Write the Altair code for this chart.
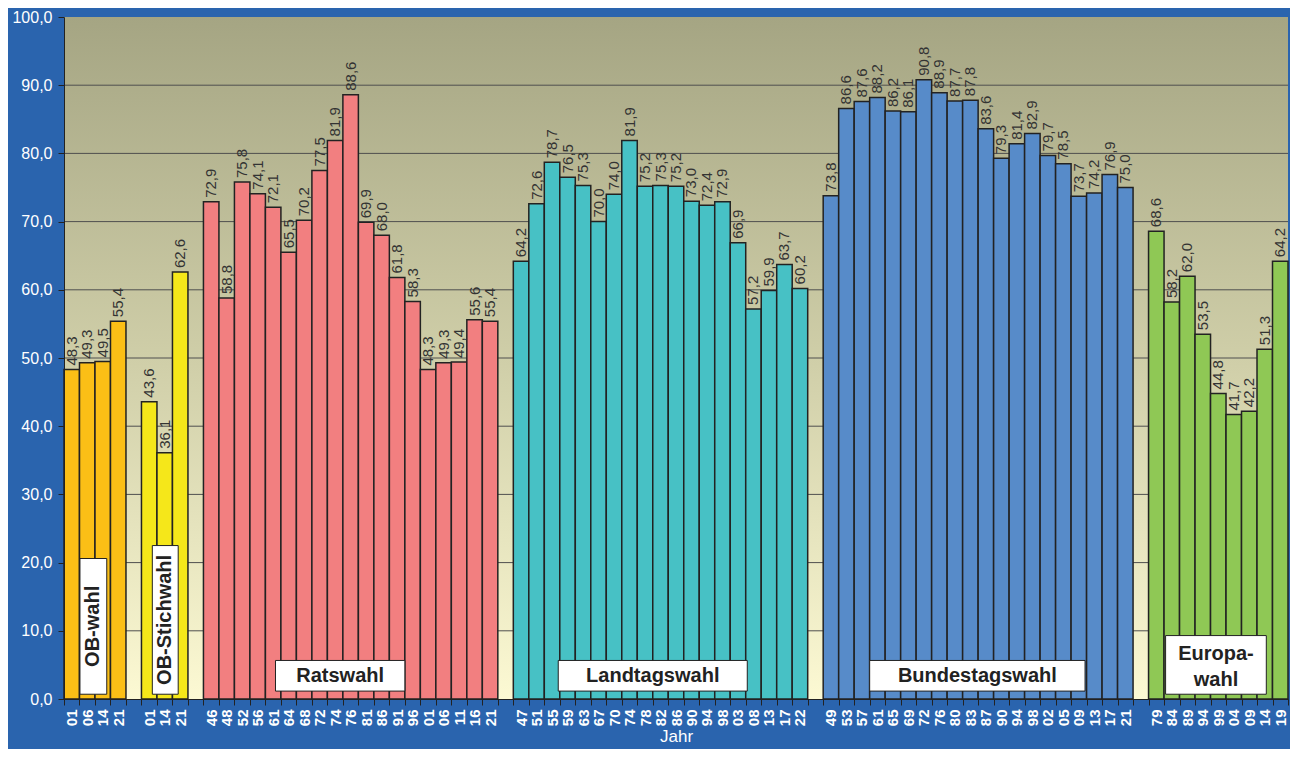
import altair as alt
import pandas as pd

# ---------------- data ----------------
groups = ["OB-wahl", "OB-Stichwahl", "Ratswahl", "Landtagswahl", "Bundestagswahl", "Europawahl"]

ob_years = ["01", "06", "14", "21"]
ob_values = [48.3, 49.3, 49.5, 55.4]

obs_years = ["01", "14", "21"]
obs_values = [43.6, 36.1, 62.6]

rat_years = ["46", "48", "52", "56", "61", "64", "68", "72", "74", "76", "81", "86", "91", "96",
             "01", "06", "11", "16", "21"]
rat_values = [72.9, 58.8, 75.8, 74.1, 72.1, 65.5, 70.2, 77.5, 81.9, 88.6, 69.9, 68.0, 61.8, 58.3,
              48.3, 49.3, 49.4, 55.6, 55.4]

ltw_years = ["47", "51", "55", "59", "63", "67", "70", "74", "78", "82", "86", "90", "94", "98",
             "03", "08", "13", "17", "22"]
ltw_values = [64.2, 72.6, 78.7, 76.5, 75.3, 70.0, 74.0, 81.9, 75.2, 75.3, 75.2, 73.0, 72.4, 72.9,
              66.9, 57.2, 59.9, 63.7, 60.2]

btw_years = ["49", "53", "57", "61", "65", "69", "72", "76", "80", "83", "87", "90", "94", "98",
             "02", "05", "09", "13", "17", "21"]
btw_values = [73.8, 86.6, 87.6, 88.2, 86.2, 86.1, 90.8, 88.9, 87.7, 87.8, 83.6, 79.3, 81.4, 82.9,
              79.7, 78.5, 73.7, 74.2, 76.9, 75.0]

eu_years = ["79", "84", "89", "94", "99", "04", "09", "14", "19"]
eu_values = [68.6, 58.2, 62.0, 53.5, 44.8, 41.7, 42.2, 51.3, 64.2]

y_ticks = [0, 10, 20, 30, 40, 50, 60, 70, 80, 90, 100]

group_colors = ["#fbbf16", "#f5e71a", "#f27f80", "#47c1c5", "#578bc9", "#8fc855"]

# box labels (text) and their placement in data units
box_texts = ["OB-wahl", "OB-Stichwahl", "Ratswahl", "Landtagswahl", "Bundestagswahl", "Europa-\nwahl"]
box_x0 = [1.03, 5.7, 13.65, 31.9, 52.0, 71.1]
box_x1 = [2.76, 7.37, 22.0, 44.1, 65.9, 77.6]
box_y0 = [0.7, 0.7, 1.16, 1.16, 1.16, 0.7]
box_y1 = [20.6, 22.5, 5.65, 5.65, 5.65, 9.3]
box_vertical = [True, True, False, False, False, False]

# ---------------- build table ----------------
series = [(ob_years, ob_values), (obs_years, obs_values), (rat_years, rat_values),
          (ltw_years, ltw_values), (btw_years, btw_values), (eu_years, eu_values)]
rows = []
tick_labels = []
pos = 0
for gi, (g, (yrs, vals)) in enumerate(zip(groups, series)):
    for yr, v in zip(yrs, vals):
        rows.append(dict(group=g, year=yr, value=v, base=0, x0=pos, x1=pos + 1, xc=pos + 0.5,
                         label=f"{v:.1f}".replace(".", ",")))
        tick_labels.append(yr)
        pos += 1
    if gi < len(groups) - 1:
        tick_labels.append("")
        pos += 1
n_slots = pos
tick_labels.append("")
df = pd.DataFrame(rows)

W, H = 1224, 682
slot_px = W / n_slots

xscale = alt.Scale(domain=[0, n_slots], nice=False, zero=False)
yscale = alt.Scale(domain=[0, 100], nice=False, zero=True)

label_str = ",".join(t if t else "_" for t in tick_labels)
label_expr = f"replace(split('{label_str}', ',')[round(datum.value)], '_', '')"

x_axis = alt.Axis(values=list(range(n_slots + 1)), labelExpr=label_expr,
                  labelAngle=270, labelOffset=slot_px / 2,
                  labelFontWeight="bold", labelFontSize=15, labelColor="white",
                  labelPadding=4, tickColor="#222222", tickSize=6,
                  domainColor="#222222", title="Jahr", titleColor="white",
                  titleFontSize=17, titleFontWeight="normal", titlePadding=3,
                  grid=False, labelOverlap=False, labelFlush=False, zindex=1)
y_axis = alt.Axis(values=y_ticks,
                  labelExpr="replace(format(datum.value, '.1f'), '.', ',')",
                  labelColor="white", labelFontSize=16, labelPadding=6,
                  tickColor="#222222", tickSize=6, domainColor="#222222",
                  title="", grid=False, zindex=1)

# ---------------- layers ----------------
bg = alt.Chart(pd.DataFrame({"a": [0]})).mark_rect(
    color=alt.LinearGradient(
        gradient="linear",
        stops=[alt.GradientStop(color="#a5a583", offset=0),
               alt.GradientStop(color="#cfcea8", offset=0.5),
               alt.GradientStop(color="#fcf9d3", offset=1)],
        x1=0, x2=0, y1=0, y2=1)
).encode(x=alt.value(0), x2=alt.value(W), y=alt.value(0), y2=alt.value(H))

grid = alt.Chart(pd.DataFrame({"v": y_ticks[1:-1]})).mark_rule(
    color="#4f4f4f", strokeWidth=1
).encode(y=alt.Y("v:Q", scale=yscale, axis=y_axis))

bars = alt.Chart(df).mark_rect(stroke="#222222", strokeWidth=1.5).encode(
    x=alt.X("x0:Q", scale=xscale, axis=x_axis),
    x2="x1:Q",
    y=alt.Y("value:Q", scale=yscale, axis=y_axis),
    y2="base:Q",
    color=alt.Color("group:N", scale=alt.Scale(domain=groups, range=group_colors), legend=None),
)

values = alt.Chart(df).mark_text(
    angle=270, align="left", baseline="middle", dx=4, fontSize=15, color="#333333"
).encode(
    x=alt.X("xc:Q", scale=xscale, axis=x_axis),
    y=alt.Y("value:Q", scale=yscale, axis=y_axis),
    text="label:N",
)

ann = pd.DataFrame(dict(text=box_texts, x0=box_x0, x1=box_x1, y0=box_y0, y1=box_y1,
                        vertical=box_vertical))
ann["xc"] = (ann["x0"] + ann["x1"]) / 2
ann["yc"] = (ann["y0"] + ann["y1"]) / 2
ann["multi"] = ann["text"].str.contains("\n")

boxes = alt.Chart(ann).mark_rect(fill="white", stroke="#222222", strokeWidth=1).encode(
    x=alt.X("x0:Q", scale=xscale, axis=x_axis), x2="x1:Q",
    y=alt.Y("y0:Q", scale=yscale, axis=y_axis), y2="y1:Q",
)

vtext = alt.Chart(ann[ann["vertical"]]).mark_text(
    angle=270, align="center", baseline="middle", fontSize=20, fontWeight="bold", color="#222222"
).encode(
    x=alt.X("xc:Q", scale=xscale, axis=x_axis),
    y=alt.Y("yc:Q", scale=yscale, axis=y_axis),
    text="text:N",
)

htext = alt.Chart(ann[~ann["vertical"] & ~ann["multi"]]).mark_text(
    align="center", baseline="middle", fontSize=20, fontWeight="bold", color="#222222"
).encode(
    x=alt.X("xc:Q", scale=xscale, axis=x_axis),
    y=alt.Y("yc:Q", scale=yscale, axis=y_axis),
    text="text:N",
)

mtext = alt.Chart(ann[ann["multi"]]).mark_text(
    align="center", baseline="middle", fontSize=20, fontWeight="bold", color="#222222",
    lineBreak="\n", lineHeight=26, dy=-11
).encode(
    x=alt.X("xc:Q", scale=xscale, axis=x_axis),
    y=alt.Y("yc:Q", scale=yscale, axis=y_axis),
    text="text:N",
)

chart = alt.layer(bg, grid, bars, values, boxes, vtext, htext, mtext).properties(
    width=W, height=H,
    padding={"left": 56, "top": 9, "right": 2, "bottom": 50},
    autosize="none",
    background="#2a64ae",
).configure(font="Liberation Sans").configure_view(stroke=None).configure_axisX(
    labelFontSize=15, labelFontWeight="bold", labelColor="white", labelOverlap=False,
    titleFontSize=17, titleColor="white", titleFontWeight="normal",
).configure_axisY(
    labelFontSize=16, labelColor="white",
)

chart.save("out.html", embed_options={"renderer": "svg", "actions": False})
